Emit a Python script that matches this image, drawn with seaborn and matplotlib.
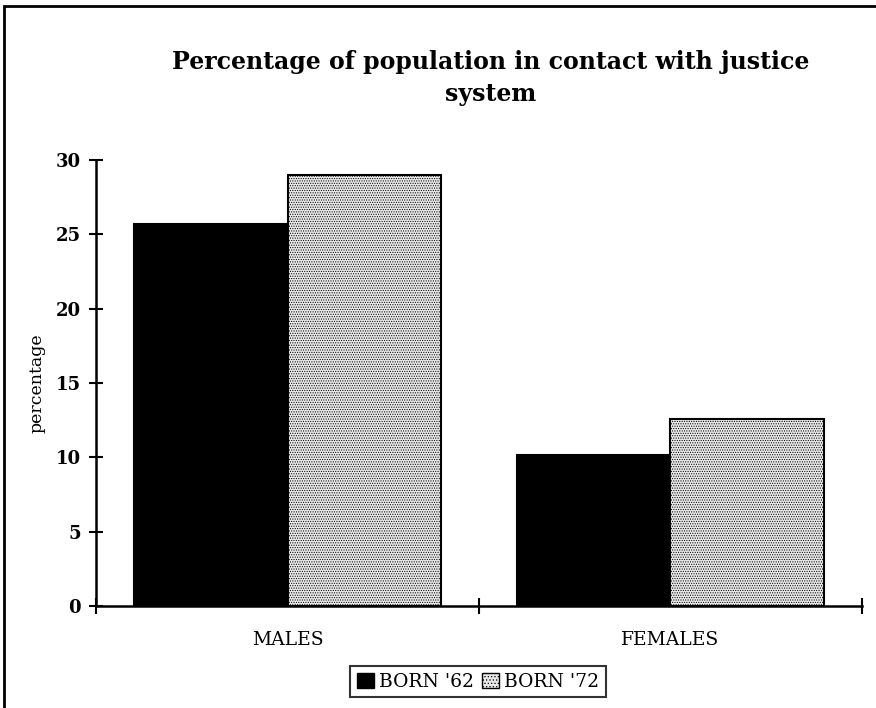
import matplotlib
matplotlib.use("Agg")
import matplotlib.pyplot as plt
import pandas as pd
import seaborn as sns
from matplotlib.patches import Rectangle
from matplotlib.ticker import FixedLocator

# Datos
CATEGORIAS = ['MALES', 'FEMALES']
COHORTES = ["BORN '62", "BORN '72"]
BORN_62 = [25.7, 10.15]
BORN_72 = [29.0, 12.6]

df = pd.DataFrame({
    'sexo': CATEGORIAS * 2,
    'cohorte': [COHORTES[0]] * 2 + [COHORTES[1]] * 2,
    'valor': BORN_62 + BORN_72,
})

sns.set_style("white")
plt.rcParams['font.family'] = ['DejaVu Serif']
plt.rcParams['text.color'] = 'black'
plt.rcParams['axes.labelcolor'] = 'black'
plt.rcParams['xtick.color'] = 'black'
plt.rcParams['ytick.color'] = 'black'
plt.rcParams['hatch.color'] = '#a0a0a0'
plt.rcParams['hatch.linewidth'] = 0.5

fig = plt.figure(figsize=(8.76, 7.08), dpi=100)
ax = fig.add_axes([0.1096, 0.144, 0.8744, 0.630])

sns.barplot(
    data=df, x='sexo', y='valor', hue='cohorte',
    order=CATEGORIAS, hue_order=COHORTES,
    palette=['#000000', '#e8e8e8'],
    width=0.8, edgecolor='black', linewidth=1.5,
    saturation=1, errorbar=None, ax=ax,
)

# punteado en las barras de 1972
for bar in ax.containers[1]:
    bar.set_hatch('.......')

ax.set_ylim(0, 30)
ax.set_xlim(-0.5, 1.5)
ax.set_yticks([0, 5, 10, 15, 20, 25, 30])
ax.xaxis.set_minor_locator(FixedLocator([-0.5, 0.5, 1.5]))
ax.tick_params(axis='x', which='major', length=0, pad=18, labelsize=13.5)
ax.tick_params(axis='x', which='minor', bottom=True, direction='inout',
               length=12, width=1.5, color='black')
ax.tick_params(axis='y', left=True, direction='inout', length=10, width=1.5,
               color='black', labelsize=13, pad=6)
for lab in ax.get_yticklabels():
    lab.set_fontweight('bold')

ax.set_xlabel('')
ax.set_ylabel('percentage', fontsize=12.5, labelpad=7)

for s in ['top', 'right']:
    ax.spines[s].set_visible(False)
for s in ['left', 'bottom']:
    ax.spines[s].set_color('black')
    ax.spines[s].set_linewidth(1.8)

ax.get_legend().remove()
handles = [Rectangle((0, 0), 1, 1, facecolor='#000000', edgecolor='black'),
           Rectangle((0, 0), 1, 1, facecolor='#e8e8e8', edgecolor='black', hatch='.....')]
leg = fig.legend(handles, COHORTES, loc='center', bbox_to_anchor=(0.546, 0.037),
                 ncol=2, frameon=True, fancybox=False, fontsize=13.5,
                 handlelength=0.9, handleheight=0.9, handletextpad=0.3,
                 columnspacing=0.4, borderpad=0.35, borderaxespad=0)
leg.get_frame().set_edgecolor('black')
leg.get_frame().set_linewidth(1.5)

fig.text(0.56, 0.89, 'Percentage of population in contact with justice\nsystem',
         ha='center', va='center', fontsize=17, fontweight='bold',
         multialignment='center', linespacing=1.45)

# marco de la figura
fig.patches.append(Rectangle((4 / 876, -0.02), 1.0, (708 - 6) / 708 + 0.02,
                             transform=fig.transFigure, fill=False,
                             edgecolor='black', linewidth=2))

fig.savefig('out.png', dpi=100)
